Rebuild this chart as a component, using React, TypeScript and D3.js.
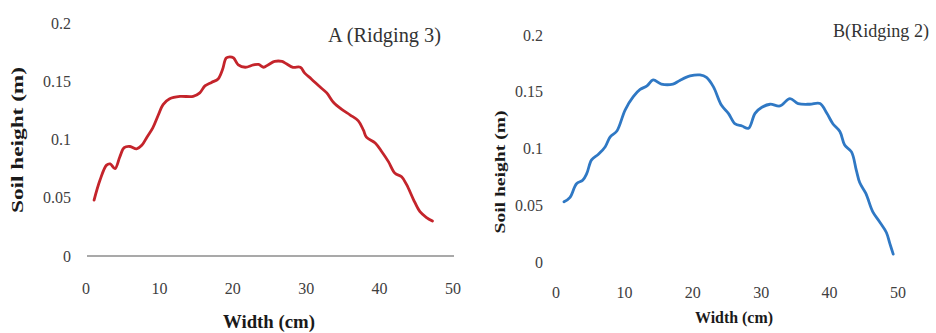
import React from "react";
import * as d3 from "d3";

// Profile A (Ridging 3): width (cm) vs soil height (m)
const widthA = [1.1, 1.9, 2.8, 3.3, 3.95, 4.6, 5.2, 6.0, 6.9, 7.6, 8.3, 9.1, 9.85, 10.5, 11.4, 12.8, 14.6, 15.5, 16.2, 17.1, 18.0, 18.6, 19.1, 19.6, 20.1, 20.75, 21.7, 22.8, 23.5, 24.2, 24.8, 25.7, 26.7, 27.3, 28.2, 29.2, 29.8, 30.7, 31.9, 32.8, 33.7, 34.8, 36.0, 37.1, 37.8, 38.2, 39.4, 40.3, 41.2, 42.1, 43.0, 43.7, 44.6, 45.5, 46.4, 47.2];
const heightA = [0.048, 0.065, 0.078, 0.079, 0.075, 0.085, 0.093, 0.094, 0.092, 0.095, 0.102, 0.11, 0.121, 0.13, 0.135, 0.137, 0.137, 0.14, 0.146, 0.149, 0.152, 0.16, 0.17, 0.171, 0.17, 0.164, 0.162, 0.164, 0.1645, 0.162, 0.164, 0.167, 0.167, 0.165, 0.162, 0.162, 0.157, 0.152, 0.145, 0.14, 0.132, 0.126, 0.121, 0.116, 0.108, 0.102, 0.097, 0.0895, 0.081, 0.071, 0.068, 0.061, 0.0487, 0.038, 0.033, 0.03];

// Profile B (Ridging 2)
const widthB = [1.17, 2.05, 3.0, 3.9, 4.5, 5.2, 6.2, 7.2, 7.9, 8.9, 10.1, 11.3, 12.3, 13.3, 14.2, 15.4, 17.1, 18.1, 19.6, 21.05, 22.0, 23.0, 24.2, 25.2, 26.2, 27.2, 28.15, 29.1, 30.1, 31.3, 32.75, 34.2, 35.4, 37.1, 38.6, 39.6, 40.5, 41.5, 42.2, 43.2, 43.9, 44.4, 45.3, 46.3, 47.3, 48.3, 48.8, 49.3];
const heightB = [0.053, 0.057, 0.069, 0.072, 0.078, 0.09, 0.095, 0.1016, 0.11, 0.1154, 0.1339, 0.1457, 0.152, 0.1551, 0.1604, 0.1568, 0.1568, 0.16, 0.1639, 0.1648, 0.1626, 0.1545, 0.138, 0.131, 0.1216, 0.1198, 0.1178, 0.131, 0.1363, 0.139, 0.1375, 0.144, 0.1396, 0.139, 0.1396, 0.131, 0.1216, 0.115, 0.103, 0.097, 0.081, 0.07, 0.0604, 0.0444, 0.0355, 0.026, 0.0164, 0.007];

const xTicks = [0, 10, 20, 30, 40, 50];
const yTicks = [0, 0.05, 0.1, 0.15, 0.2];
const xTitle = "Width (cm)";
const yTitle = "Soil height (m)";

const serif = "'Liberation Serif', 'Times New Roman', serif";

type PanelProps = {
  xs: number[];
  ys: number[];
  color: string;
  title: string;
  x0: number; x1: number; y0: number; y1: number;
  showBaseline: boolean;
  yTickX: number; xTickY: number;
  title_x: number; title_y: number; titleLen: number; titleSize: number;
  yLab_x: number; yLab_y: number; yLabLen: number; yLabSize: number;
  xLab_x: number; xLab_y: number; xLabLen: number; xLabSize: number;
};

function Panel(p: PanelProps) {
  const x = d3.scaleLinear().domain([0, 50]).range([p.x0, p.x1]);
  const y = d3.scaleLinear().domain([0, 0.2]).range([p.y0, p.y1]);
  const pts = p.xs.map((v, i) => [v, p.ys[i]] as [number, number]);
  const line = d3
    .line<[number, number]>()
    .x((d) => x(d[0]))
    .y((d) => y(d[1]))
    .curve(d3.curveCatmullRom.alpha(0.5));
  return (
    <g fontFamily={serif}>
      {p.showBaseline && (
        <line x1={x(0) + 1} x2={x(50) + 1} y1={y(0)} y2={y(0)} stroke="#8c8c8c" strokeWidth={1.5} />
      )}
      {yTicks.map((t) => (
        <text key={"y" + t} x={p.yTickX} y={y(t)} dy="0.35em" textAnchor="end" fontSize={16} fill="#404040">
          {String(t)}
        </text>
      ))}
      {xTicks.map((t) => (
        <text key={"x" + t} x={x(t)} y={p.xTickY} dy="0.35em" textAnchor="middle" fontSize={16} fill="#404040">
          {String(t)}
        </text>
      ))}
      <path d={line(pts) || ""} fill="none" stroke={p.color} strokeWidth={2.8} strokeLinejoin="round" strokeLinecap="round" />
      <text x={p.title_x} y={p.title_y} fontSize={p.titleSize} fill="#333" textLength={p.titleLen} lengthAdjust="spacingAndGlyphs">
        {p.title}
      </text>
      <text
        transform={`translate(${p.yLab_x},${p.yLab_y}) rotate(-90)`}
        textAnchor="middle"
        fontSize={p.yLabSize}
        fontWeight="bold"
        fill="#1a1a1a"
        textLength={p.yLabLen}
        lengthAdjust="spacingAndGlyphs"
      >
        {yTitle}
      </text>
      <text
        x={p.xLab_x}
        y={p.xLab_y}
        textAnchor="middle"
        fontSize={p.xLabSize}
        fontWeight="bold"
        fill="#1a1a1a"
        textLength={p.xLabLen}
        lengthAdjust="spacingAndGlyphs"
      >
        {xTitle}
      </text>
    </g>
  );
}

export default function App() {
  return (
    <svg width={936} height={333} style={{ position: "absolute", left: 0, top: 0, background: "#fff" }}>
      <rect width={936} height={333} fill="#fff" />
      <Panel
        xs={widthA} ys={heightA} color="#c4242b" title="A (Ridging 3)"
        x0={86} x1={453} y0={256} y1={23} showBaseline={true}
        yTickX={71} xTickY={288}
        title_x={328} title_y={42} titleLen={113} titleSize={20}
        yLab_x={23} yLab_y={140} yLabLen={146} yLabSize={17}
        xLab_x={269} xLab_y={328} xLabLen={92} xLabSize={18}
      />
      <Panel
        xs={widthB} ys={heightB} color="#2f78c4" title="B(Ridging 2)"
        x0={556} x1={898} y0={262} y1={35} showBaseline={false}
        yTickX={543} xTickY={292}
        title_x={833} title_y={37} titleLen={96} titleSize={18}
        yLab_x={505} yLab_y={172} yLabLen={123} yLabSize={15}
        xLab_x={734} xLab_y={323} xLabLen={78} xLabSize={17}
      />
    </svg>
  );
}
